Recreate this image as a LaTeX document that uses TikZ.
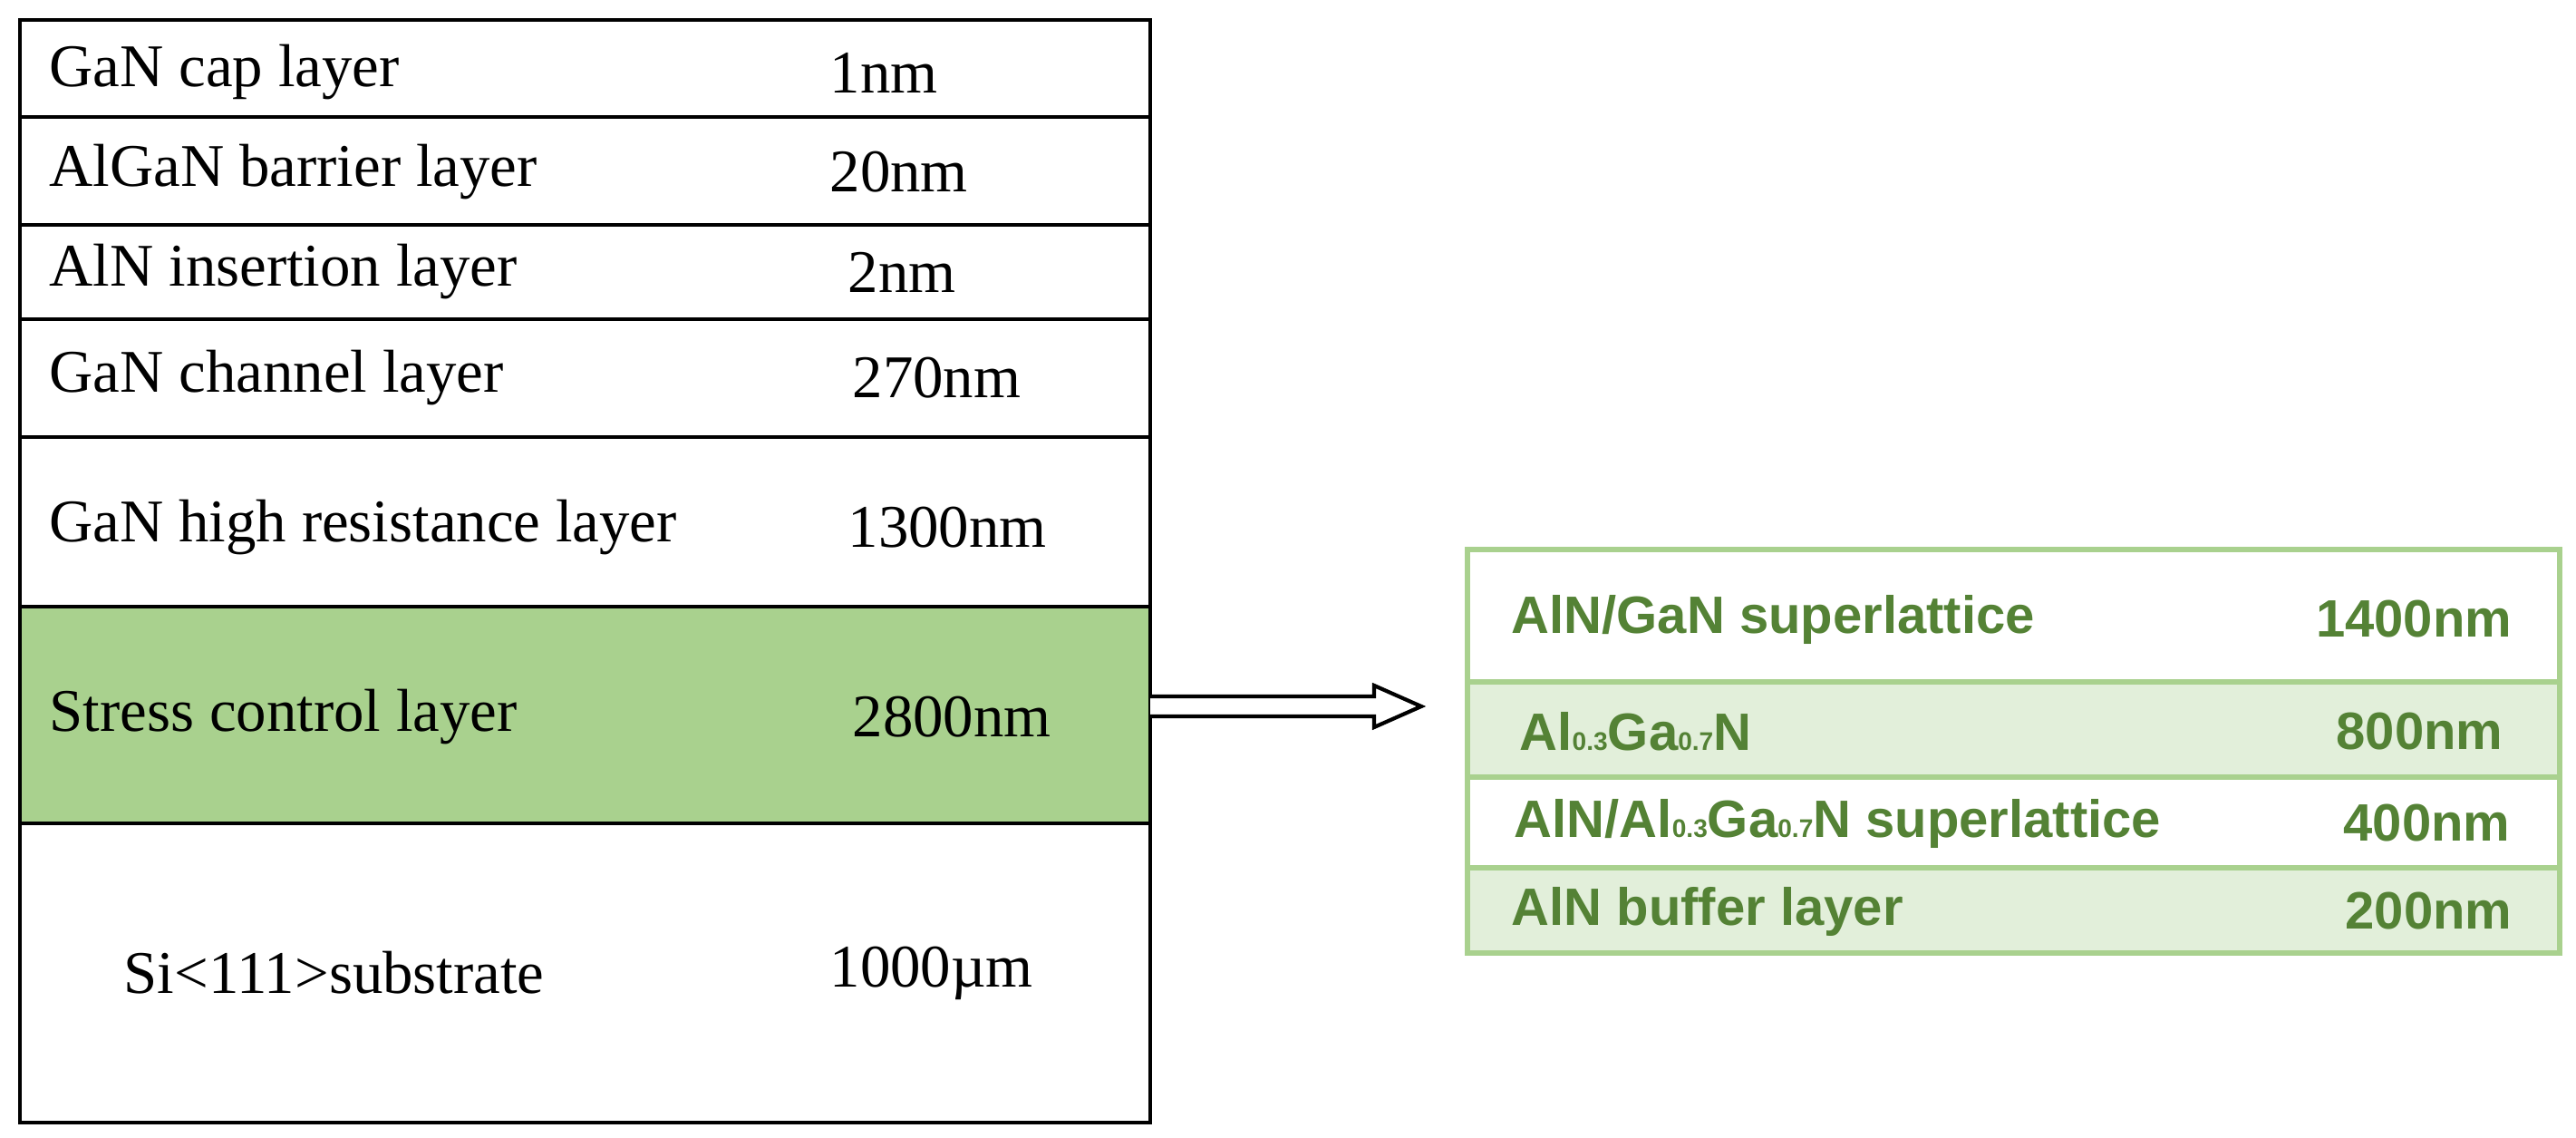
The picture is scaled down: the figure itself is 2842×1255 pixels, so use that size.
\documentclass[tikz,border=0pt]{standalone}
\usepackage{fontspec}
\setmainfont{Liberation Serif}
\newfontfamily\grfont{Liberation Sans}
\usetikzlibrary{positioning}
\definecolor{stressgreen}{HTML}{A9D18E}
\definecolor{lightgreen}{HTML}{E2EFDA}
\definecolor{darkgreen}{HTML}{548235}
\begin{document}
\begin{tikzpicture}
	[x=0.01cm,y=-0.01cm,
		layer/.style={draw=black,line width=1.2pt},
		name text/.style={anchor=west,inner sep=0pt,font=\fontsize{19}{22}\selectfont},
		sub layer/.style={draw=stressgreen,line width=1.5pt},
		sub text/.style={anchor=west,inner sep=0pt,text=darkgreen,font=\grfont\bfseries\fontsize{16.5}{20}\selectfont},
		sub value/.style={anchor=east,inner sep=0pt,text=darkgreen,font=\grfont\bfseries\fontsize{16.5}{20}\selectfont}]
	\newcommand{\sub}[1]{{\fontsize{8}{9}\selectfont #1}}
	\useasboundingbox (0,0) rectangle (2842,1255);

	% main stack
	\fill[stressgreen] (22,669) rectangle (1269,908);
	\draw[layer] (22,22) rectangle (1269,1238);
	\foreach \y in {129,248,352,482,669,908}
		\draw[layer] (22,\y) -- (1269,\y);

	\node[name text] (capname) at (54,80) {GaN cap layer};
	\node[name text] (capval) at (915,80) {1nm};
	\node[name text] (barname) at (54,190) {AlGaN barrier layer};
	\node[name text] (barval) at (915,190) {20nm};
	\node[name text] (insname) at (54,300) {AlN insertion layer};
	\node[name text] (insval) at (935,300) {2nm};
	\node[name text] (chname) at (54,417) {GaN channel layer};
	\node[name text] (chval) at (940,417) {270nm};
	\node[name text] (hrname) at (54,582) {GaN high resistance layer};
	\node[name text] (hrval) at (935,582) {1300nm};
	\node[name text] (scname) at (54,791) {Stress control layer};
	\node[name text] (scval) at (940,791) {2800nm};
	\node[name text] (siname) at (136,1073) {Si<111>substrate};
	\node[name text] (sival) at (915,1073) {1000µm};

	% hollow arrow
	\draw[line width=1.2pt,fill=white] (1269,768) -- (1516,768) -- (1516,756) -- (1568,779)
		-- (1516,802) -- (1516,790) -- (1269,790);

	% stress control detail
	\fill[lightgreen] (1619,752) rectangle (2824,857);
	\fill[lightgreen] (1619,957) rectangle (2824,1051);
	\draw[sub layer] (1619,606) rectangle (2824,1051);
	\foreach \y in {752,857,957}
		\draw[sub layer] (1619,\y) -- (2824,\y);

	\node[sub text] (slname) at (1667,683) {AlN/GaN superlattice};
	\node[sub value] (slval) at (2772,683) {1400nm};
	\node[sub text] (agname) at (1676,807) {Al\sub{0.3}Ga\sub{0.7}N};
	\node[sub value] (agval) at (2762,807) {800nm};
	\node[sub text] (aslname) at (1670,908) {AlN/Al\sub{0.3}Ga\sub{0.7}N superlattice};
	\node[sub value] (aslval) at (2770,908) {400nm};
	\node[sub text] (bufname) at (1667,1005) {AlN buffer layer};
	\node[sub value] (bufval) at (2772,1005) {200nm};
\end{tikzpicture}
\end{document}
